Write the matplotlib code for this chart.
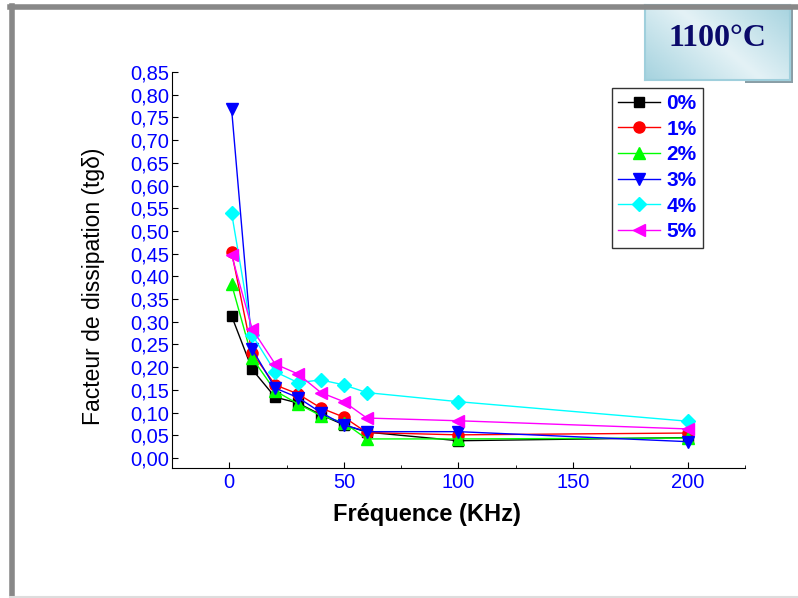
import matplotlib
matplotlib.use('Agg')
import matplotlib.pyplot as plt
from matplotlib.patches import Rectangle
from matplotlib.lines import Line2D
from matplotlib.ticker import MultipleLocator, FuncFormatter
import numpy as np

plt.rcParams['font.family'] = ['Liberation Sans', 'DejaVu Sans']

# frequences (kHz)
freq = [1, 10, 20, 30, 40, 50, 60, 100, 200]

# tg delta pour chaque taux
tg_0 = [0.313, 0.195, 0.134, 0.121, 0.095, 0.073, 0.057, 0.038, 0.045]
tg_1 = [0.454, 0.231, 0.161, 0.141, 0.110, 0.090, 0.056, 0.051, 0.055]
tg_2 = [0.383, 0.220, 0.148, 0.119, 0.093, 0.078, 0.042, 0.042, 0.044]
tg_3 = [0.769, 0.240, 0.154, 0.133, 0.100, 0.073, 0.058, 0.058, 0.036]
tg_4 = [0.540, 0.271, 0.190, 0.166, 0.172, 0.161, 0.144, 0.124, 0.081]
tg_5 = [0.447, 0.284, 0.207, 0.185, 0.144, 0.124, 0.088, 0.082, 0.064]

labels = ['0%', '1%', '2%', '3%', '4%', '5%']
series = [tg_0, tg_1, tg_2, tg_3, tg_4, tg_5]
colors = ['black', 'red', '#00ff00', 'blue', 'cyan', 'magenta']
markers = ['s', 'o', '^', 'v', 'D', '<']
msizes = [7, 8, 8, 8, 7, 8]

fig = plt.figure(figsize=(7.98, 5.98), dpi=100)

# cadre gris a gauche et en haut
fig.add_artist(Line2D([0.015, 0.015], [0, 0.99], color='#888888', lw=4,
                      transform=fig.transFigure))
fig.add_artist(Line2D([0.013, 1.0], [0.988, 0.988], color='#888888', lw=4,
                      transform=fig.transFigure))
fig.add_artist(Line2D([0.013, 1.0], [0.002, 0.002], color='#dddddd', lw=1.5,
                      transform=fig.transFigure))

ax = fig.add_axes([0.2155, 0.2174, 0.7181, 0.6622])

for y, c, m, ms, lab in zip(series, colors, markers, msizes, labels):
    ax.plot(freq, y, color=c, marker=m, markersize=ms, lw=1, label=lab,
            markeredgecolor=c)

ax.set_xlim(-25, 225)
ax.set_ylim(-0.022, 0.85)
ax.spines['top'].set_visible(False)
ax.spines['right'].set_visible(False)
ax.xaxis.set_major_locator(MultipleLocator(50))
ax.xaxis.set_minor_locator(MultipleLocator(25))
ax.yaxis.set_major_locator(MultipleLocator(0.05))
ax.yaxis.set_major_formatter(FuncFormatter(lambda v, p: ('%.2f' % v).replace('.', ',')))
ax.tick_params(axis='both', which='both', direction='in', colors='black',
               labelcolor='blue', labelsize=14.5)
ax.tick_params(axis='both', which='major', length=4)
ax.tick_params(axis='both', which='minor', length=2)
ax.tick_params(axis='y', pad=2)

ax.set_xlabel('Fréquence (KHz)', fontsize=17, fontweight='bold')
ax.xaxis.set_label_coords(0.445, -0.088)
ax.set_ylabel('Facteur de dissipation (tgδ)', fontsize=16.5)
ax.yaxis.set_label_coords(-0.117, 0.46)

leg = ax.legend(loc='upper left', bbox_to_anchor=(0.768, 0.96), frameon=True,
                fancybox=False, edgecolor='black', fontsize=15,
                handlelength=2.0, handletextpad=0.3, borderpad=0.3,
                labelspacing=0.32, borderaxespad=0)
leg.get_frame().set_linewidth(1)
for t in leg.get_texts():
    t.set_color('blue')
    t.set_fontweight('bold')

# boite titre 1100°C (ombre puis degrade)
fig.add_artist(Rectangle((0.812, 0.861), 0.182, 0.126, transform=fig.transFigure,
                         facecolor='#8a9ea6', edgecolor='none', zorder=-1))
bx = fig.add_axes([0.808, 0.866, 0.182, 0.126])
gx, gy = np.meshgrid(np.linspace(0, 1, 60), np.linspace(0, 1, 30))
grad = np.abs(gx - gy * 0.6 - 0.2)
bx.imshow(grad, cmap=matplotlib.colors.LinearSegmentedColormap.from_list(
    'bleu', ['#e4f2f6', '#a6d3df']), aspect='auto', extent=[0, 1, 0, 1])
for s in bx.spines.values():
    s.set_color('#9fcfdc')
    s.set_linewidth(1.5)
bx.set_xticks([])
bx.set_yticks([])
bx.text(0.5, 0.55, '1100°C', fontsize=23, fontweight='bold',
        family='Liberation Serif', color='#0a0a6a', ha='center', va='center',
        transform=bx.transAxes)

fig.savefig('out.png', dpi=100)
